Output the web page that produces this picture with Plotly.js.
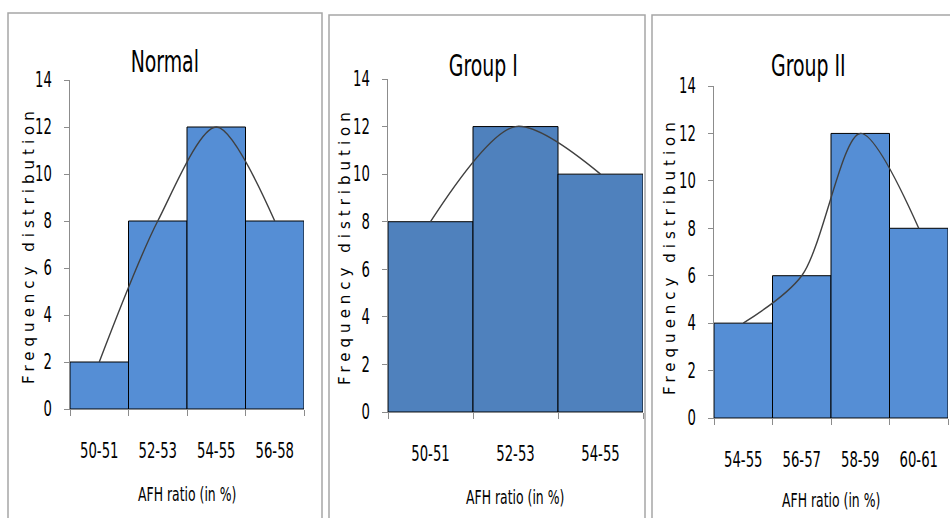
<!DOCTYPE html>
<html>
<head>
<meta charset="utf-8">
<script src="https://cdn.plot.ly/plotly-3.0.1.min.js"></script>
<style>
html, body { margin: 0; padding: 0; background: #fff; }
#chart { width: 950px; height: 518px; }
</style>
</head>
<body>
<div id="chart"></div>
<script>
// ---- data ----
const normalCategories = ["50-51", "52-53", "54-55", "56-58"];
const normalValues = [2, 8, 12, 8];
const group1Categories = ["50-51", "52-53", "54-55"];
const group1Values = [8, 12, 10];
const group2Categories = ["54-55", "56-57", "58-59", "60-61"];
const group2Values = [4, 6, 12, 8];
const panelTitles = ["Normal", "Group I", "Group II"];
const xTitle = "AFH ratio (in %)";
const yTitle = "Frequency distribution";
const yTickVals = [0, 2, 4, 6, 8, 10, 12, 14];

// ---- styles ----
const W = 950, H = 518;
const narrow = "'DejaVu Sans Condensed', 'Liberation Sans Narrow', sans-serif";
const wide = "'DejaVu Sans', Verdana, sans-serif";
const px = v => v / W;
const py = v => 1 - v / H;

const panels = [
  {cats: normalCategories, vals: normalValues, color: "#558ED5", x: [70, 304], y: [409, 80],
   title: [165, 62], ytitle: [29, 245], xtitle: [187, 494], border: [8, 322, 13]},
  {cats: group1Categories, vals: group1Values, color: "#4F81BD", x: [388, 643], y: [412, 79],
   title: [483, 66], ytitle: [345, 246], xtitle: [515, 497], border: [329, 645, 15]},
  {cats: group2Categories, vals: group2Values, color: "#558ED5", x: [714, 948], y: [418, 86],
   title: [808, 66], ytitle: [670, 256], xtitle: [831, 500], border: [652, 960, 15]}
];

const data = [];
const layout = {
  width: W, height: H,
  margin: {l: 0, r: 0, t: 0, b: 0},
  paper_bgcolor: "#fff", plot_bgcolor: "rgba(0,0,0,0)",
  showlegend: false, bargap: 0,
  annotations: [], shapes: []
};

panels.forEach((p, i) => {
  const n = i === 0 ? "" : String(i + 1);
  const xa = "x" + n, ya = "y" + n;
  data.push({
    type: "bar", x: p.cats, y: p.vals, xaxis: xa, yaxis: ya,
    marker: {color: p.color, line: {color: "#000", width: 1}},
    hoverinfo: "skip"
  });
  data.push({
    type: "scatter", mode: "lines", x: p.cats, y: p.vals, xaxis: xa, yaxis: ya,
    line: {shape: "spline", smoothing: 0.85, color: "#404040", width: 1.4},
    hoverinfo: "skip"
  });
  layout["xaxis" + n] = {
    domain: [px(p.x[0]), px(p.x[1])], anchor: ya, type: "category",
    tickson: "boundaries", ticks: "outside", ticklen: 6, tickcolor: "#8c8c8c",
    tickangle: 0, automargin: false,
    showline: true, linecolor: "#8c8c8c", linewidth: 1, showgrid: false, zeroline: false,
    ticklabelstandoff: 23, tickfont: {family: narrow, size: 21, color: "#000"}, fixedrange: true
  };
  layout["yaxis" + n] = {
    domain: [py(p.y[0]), py(p.y[1])], anchor: xa, range: [0, 14], automargin: false,
    tickvals: yTickVals, ticks: "outside", ticklen: 5, tickcolor: "#8c8c8c",
    showline: true, linecolor: "#8c8c8c", linewidth: 1, showgrid: false, zeroline: false,
    ticklabelstandoff: 8, tickfont: {family: narrow, size: 21, color: "#000"}, fixedrange: true
  };
  layout.annotations.push({
    text: panelTitles[i], xref: "paper", yref: "paper", x: px(p.title[0]), y: py(p.title[1]),
    xanchor: "center", yanchor: "middle", showarrow: false,
    font: {family: narrow, size: 30, color: "#000"}
  });
  layout.annotations.push({
    text: xTitle, xref: "paper", yref: "paper", x: px(p.xtitle[0]), y: py(p.xtitle[1]),
    xanchor: "center", yanchor: "middle", showarrow: false,
    font: {family: narrow, size: 20, color: "#000"}
  });
  layout.annotations.push({
    text: yTitle, xref: "paper", yref: "paper", x: px(p.ytitle[0]), y: py(p.ytitle[1]),
    xanchor: "center", yanchor: "middle", showarrow: false, textangle: -90,
    font: {family: wide, size: 15, color: "#000"}
  });
  layout.shapes.push({
    type: "rect", xref: "paper", yref: "paper", layer: "below",
    x0: px(p.border[0]), x1: px(p.border[1]), y0: -0.1, y1: py(p.border[2]),
    line: {color: "#a6a6a6", width: 1.5}, fillcolor: "rgba(0,0,0,0)"
  });
});

function squeeze(el, factor) {
  if (el.hasAttribute("textLength")) return;
  const len = el.getComputedTextLength();
  if (len > 0) {
    el.setAttribute("textLength", (len * factor).toFixed(1));
    el.setAttribute("lengthAdjust", "spacingAndGlyphs");
  }
}

function restyleTexts() {
  document.querySelectorAll('g[class*="tick"] > text').forEach(t => squeeze(t, 0.7));
  document.querySelectorAll(".annotation-text").forEach(t => {
    if (t.textContent === yTitle) {
      t.style.letterSpacing = "5px";
    } else if (panelTitles.includes(t.textContent)) {
      squeeze(t, 0.7);
    } else {
      squeeze(t, 0.69);
    }
  });
}

const gd = document.getElementById("chart");
Plotly.newPlot(gd, data, layout, {staticPlot: true, displayModeBar: false}).then(() => {
  restyleTexts();
  gd.on("plotly_afterplot", restyleTexts);
  requestAnimationFrame(restyleTexts);
  setTimeout(restyleTexts, 50);
});
</script>
</body>
</html>
